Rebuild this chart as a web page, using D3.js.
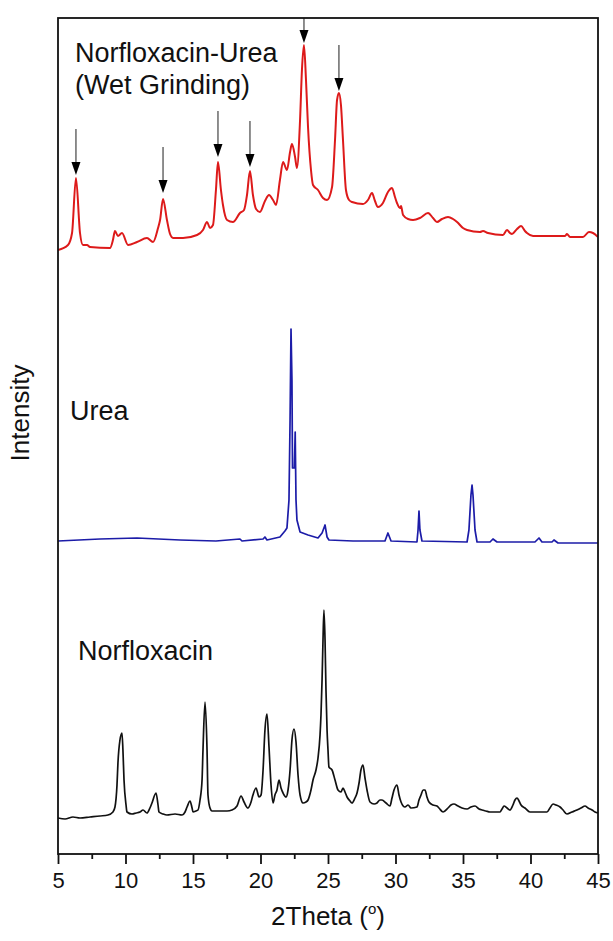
<!DOCTYPE html>
<html>
<head>
<meta charset="utf-8">
<script src="https://cdn.jsdelivr.net/npm/d3@7.9.0/dist/d3.min.js"></script>
<style>
  html, body { margin: 0; padding: 0; background: #fff; }
  svg { display: block; font-family: 'Liberation Sans', Arial, sans-serif; }
</style>
</head>
<body>
<svg id="chart" width="613" height="941"></svg>
<script>
// 2theta (deg) vs. intensity above each trace's own baseline (a.u.)
const norfloxacin = [
  [5.00, 0], [5.52, -1], [6.11, 1], [6.63, 0], [7.37, 1], [8.11, 2], [8.70, 3], [9.07, 6],
  [9.22, 11], [9.37, 33], [9.44, 55], [9.59, 78], [9.74, 85], [9.81, 68], [9.89, 38], [10.04, 13],
  [10.11, 6], [10.48, 4], [10.78, 5], [11.07, 6], [11.30, 8], [11.59, 5], [11.81, 10], [11.96, 15],
  [12.26, 25], [12.41, 13], [12.48, 6], [12.78, 4], [13.07, 3], [13.67, 4], [14.19, 3], [14.41, 6],
  [14.56, 11], [14.78, 17], [14.93, 10], [15.00, 6], [15.22, 7], [15.37, 8], [15.52, 18], [15.67, 38],
  [15.74, 68], [15.89, 116], [16.04, 68], [16.11, 23], [16.26, 10], [16.41, 7], [17.00, 7], [17.52, 7],
  [17.89, 8], [18.26, 12], [18.56, 22], [18.78, 16], [19.07, 10], [19.30, 16], [19.44, 23], [19.67, 30],
  [19.89, 21], [20.04, 23], [20.19, 48], [20.33, 88], [20.48, 104], [20.63, 71], [20.78, 33], [20.93, 15],
  [21.07, 23], [21.22, 28], [21.37, 38], [21.52, 30], [21.67, 25], [21.89, 21], [22.04, 28], [22.19, 48],
  [22.33, 78], [22.48, 89], [22.63, 76], [22.78, 43], [22.93, 23], [23.15, 15], [23.37, 16], [23.52, 18],
  [23.74, 28], [23.89, 38], [24.11, 48], [24.26, 60], [24.41, 83], [24.48, 103], [24.56, 138], [24.63, 178],
  [24.70, 208], [24.78, 178], [24.85, 128], [24.93, 88], [25.00, 68], [25.07, 51], [25.30, 48], [25.52, 38],
  [25.74, 28], [25.96, 26], [26.11, 30], [26.26, 26], [26.41, 21], [26.63, 17], [26.78, 15], [27.00, 20],
  [27.15, 25], [27.30, 35], [27.44, 48], [27.59, 53], [27.74, 40], [27.89, 28], [28.11, 16], [28.41, 14],
  [28.63, 15], [28.85, 18], [29.00, 18], [29.30, 15], [29.59, 12], [29.74, 20], [29.89, 28], [30.11, 33],
  [30.26, 23], [30.41, 16], [30.70, 11], [30.93, 13], [31.15, 10], [31.59, 11], [31.74, 18], [31.89, 23],
  [32.04, 28], [32.19, 28], [32.33, 21], [32.48, 16], [32.78, 13], [33.07, 12], [33.22, 10], [33.52, 6],
  [33.89, 10], [34.11, 13], [34.33, 14], [34.63, 12], [34.93, 10], [35.30, 9], [35.59, 11], [35.89, 12],
  [36.19, 9], [36.41, 8], [36.70, 7], [37.00, 6], [37.37, 6], [37.74, 6], [37.89, 9], [38.04, 12],
  [38.26, 10], [38.48, 8], [38.70, 13], [38.85, 18], [39.00, 20], [39.15, 17], [39.30, 13], [39.59, 10],
  [39.96, 6], [40.56, 6], [41.22, 6], [41.44, 10], [41.67, 14], [41.89, 13], [42.19, 11], [42.41, 8],
  [42.70, 4], [43.07, 6], [43.44, 8], [43.74, 10], [44.04, 12], [44.26, 10], [44.56, 8], [44.78, 6],
  [45.00, 5]
];

const urea = [
  [5.00, 0], [8.11, 2], [10.85, 3], [14.04, 1], [16.70, 0], [18.48, 2], [18.63, 0], [20.19, 2],
  [20.33, 4], [20.48, 1], [21.44, 4], [21.81, 10], [21.96, 13], [22.11, 41], [22.19, 121], [22.26, 212],
  [22.33, 161], [22.37, 73], [22.51, 73], [22.57, 109], [22.63, 41], [22.70, 21], [22.93, 9], [23.52, 6],
  [24.26, 3], [24.56, 8], [24.78, 16], [24.93, 4], [25.07, 1], [26.85, 0], [29.22, 0], [29.44, 8],
  [29.67, 0], [31.59, -1], [31.67, 11], [31.74, 30], [31.81, 11], [31.96, 0], [35.30, -1], [35.44, 11],
  [35.59, 46], [35.67, 56], [35.74, 46], [35.89, 11], [36.04, -1], [37.00, -1], [37.22, 2], [37.52, -1],
  [40.33, -1], [40.63, 3], [40.85, -1], [41.59, -1], [41.74, 1], [42.04, -2], [45.00, -2]
];

const cocrystal = [
  [5.00, -1], [5.74, 4], [6.04, 16], [6.33, 71], [6.63, 16], [6.85, 4], [7.15, 4], [7.37, 2],
  [8.85, 1], [9.07, 9], [9.22, 18], [9.44, 13], [9.74, 16], [10.19, 4], [10.85, 7], [11.59, 11],
  [12.04, 7], [12.41, 21], [12.56, 29], [12.78, 50], [13.07, 29], [13.30, 15], [13.52, 11], [14.26, 11],
  [15.30, 14], [15.74, 19], [16.04, 27], [16.26, 21], [16.48, 24], [16.70, 59], [16.85, 87], [17.07, 59],
  [17.22, 44], [17.52, 29], [17.96, 27], [18.48, 36], [18.78, 39], [19.00, 54], [19.22, 78], [19.44, 54],
  [19.67, 40], [19.96, 37], [20.33, 48], [20.63, 54], [20.93, 49], [21.15, 44], [21.44, 69], [21.67, 87],
  [21.96, 79], [22.19, 97], [22.33, 105], [22.56, 92], [22.70, 81], [22.93, 129], [23.07, 179], [23.22, 204],
  [23.37, 169], [23.52, 122], [23.74, 79], [23.89, 64], [24.26, 59], [24.63, 51], [24.93, 49], [25.30, 62],
  [25.52, 109], [25.67, 149], [25.81, 156], [25.96, 144], [26.11, 109], [26.33, 59], [26.56, 49], [26.78, 47],
  [27.59, 45], [27.96, 49], [28.26, 56], [28.48, 48], [28.70, 42], [29.07, 46], [29.44, 57], [29.74, 61],
  [29.96, 52], [30.11, 46], [30.33, 41], [30.41, 43], [30.56, 34], [30.93, 30], [31.30, 29], [31.81, 31],
  [32.41, 36], [32.78, 31], [33.07, 27], [33.44, 30], [33.89, 32], [34.26, 30], [34.56, 27], [35.00, 21],
  [35.30, 19], [36.26, 17], [36.48, 18], [36.85, 16], [37.96, 14], [38.26, 19], [38.48, 16], [38.63, 15],
  [39.00, 20], [39.30, 23], [39.59, 18], [39.74, 16], [40.19, 13], [42.56, 13], [42.70, 15], [42.93, 12],
  [43.89, 12], [44.33, 17], [44.63, 16], [45.00, 12]
];

// vertical offsets used to stack the patterns
const traceNames = ['Norfloxacin', 'Urea', 'Norfloxacin-Urea'];
const traceOffsets = [36, 313, 605];
const traceColors = ['#111111', '#1c1ca8', '#dd1a1a'];

// new peaks of the co-crystal marked by arrows: [2theta, intensity at arrow tip]
const arrowPeaks = [[6.33, 74], [12.78, 56], [16.85, 92], [19.22, 82], [23.22, 206], [25.81, 158]];

const xMajorTicks = [5, 10, 15, 20, 25, 30, 35, 40, 45];
const xMinorTicks = [7.5, 12.5, 17.5, 22.5, 27.5, 32.5, 37.5, 42.5];

const margin = { top: 18, right: 15, bottom: 87, left: 58 };
const width = 613, height = 941;

const svg = d3.select('#chart');

const x = d3.scaleLinear().domain([5, 45]).range([margin.left, width - margin.right]);
const y = d3.scaleLinear().domain([0, 836]).range([height - margin.bottom, margin.top]);

svg.append('defs').append('clipPath').attr('id', 'plot-clip')
  .append('rect')
  .attr('x', x(5)).attr('y', y(836))
  .attr('width', x(45) - x(5)).attr('height', y(0) - y(836));

const plot = svg.append('g').attr('clip-path', 'url(#plot-clip)');

const series = [norfloxacin, urea, cocrystal];
// urea has very sharp reflections, keep it straight; the others are smoothed
const curves = [d3.curveMonotoneX, d3.curveLinear, d3.curveMonotoneX];

series.forEach((data, i) => {
  const line = d3.line()
    .curve(curves[i])
    .x((d) => x(d[0]))
    .y((d) => y(d[1] + traceOffsets[i]));

  plot.append('path')
    .datum(data)
    .attr('fill', 'none')
    .attr('stroke', traceColors[i])
    .attr('stroke-width', i === 2 ? 2 : 1.7)
    .attr('stroke-linejoin', 'round')
    .attr('d', line);
});

// arrows
const arrowLength = 46;
const headLength = 13;
const headHalf = 4.5;
const arrows = plot.append('g');

arrowPeaks.forEach(([theta, v]) => {
  const ax = x(theta);
  const tip = y(v + traceOffsets[2]);
  const tail = Math.max(tip - arrowLength, y(836));

  arrows.append('line')
    .attr('x1', ax).attr('x2', ax)
    .attr('y1', tail).attr('y2', tip - headLength + 2)
    .attr('stroke', '#333')
    .attr('stroke-width', 1.1);

  arrows.append('path')
    .attr('d', `M${ax - headHalf},${tip - headLength}L${ax + headHalf},${tip - headLength}L${ax},${tip}Z`)
    .attr('fill', '#000');
});

// frame
svg.append('rect')
  .attr('x', x(5)).attr('y', y(836))
  .attr('width', x(45) - x(5)).attr('height', y(0) - y(836))
  .attr('fill', 'none')
  .attr('stroke', '#111')
  .attr('stroke-width', 1.8);

// bottom axis
const axisG = svg.append('g').attr('transform', `translate(0,${y(0)})`);

axisG.call(
  d3.axisBottom(x).tickValues(xMajorTicks).tickSizeInner(10).tickSizeOuter(0).tickPadding(8)
);
axisG.select('.domain').remove();
axisG.selectAll('.tick line').attr('stroke', '#111').attr('stroke-width', 1.8);
axisG.selectAll('.tick text')
  .attr('fill', '#111')
  .attr('font-size', 22)
  .attr('font-family', "'Liberation Sans', Arial, sans-serif");

const minorG = svg.append('g').attr('transform', `translate(0,${y(0)})`);
minorG.call(d3.axisBottom(x).tickValues(xMinorTicks).tickSize(5).tickFormat(''));
minorG.select('.domain').remove();
minorG.selectAll('.tick line').attr('stroke', '#111').attr('stroke-width', 1.8);

// axis titles
const xTitle = svg.append('text')
  .attr('x', (x(5) + x(45)) / 2)
  .attr('y', 925)
  .attr('text-anchor', 'middle')
  .attr('font-size', 26)
  .attr('fill', '#111');
xTitle.append('tspan').text('2Theta (');
xTitle.append('tspan').attr('font-size', 15).attr('dy', -11).text('o');
xTitle.append('tspan').attr('dy', 11).text(')');

svg.append('text')
  .attr('transform', `translate(29,${(y(0) + y(836)) / 2 - 23}) rotate(-90)`)
  .attr('text-anchor', 'middle')
  .attr('font-size', 26)
  .attr('fill', '#111')
  .text('Intensity');

// trace labels
const labelG = svg.append('g').attr('font-size', 27).attr('fill', '#111');
labelG.append('text').attr('x', 75).attr('y', 62).text(traceNames[2]);
labelG.append('text').attr('x', 75).attr('y', 94).text('(Wet Grinding)');
labelG.append('text').attr('x', 70).attr('y', 420).text(traceNames[1]);
labelG.append('text').attr('x', 78).attr('y', 660).text(traceNames[0]);
</script>
</body>
</html>
